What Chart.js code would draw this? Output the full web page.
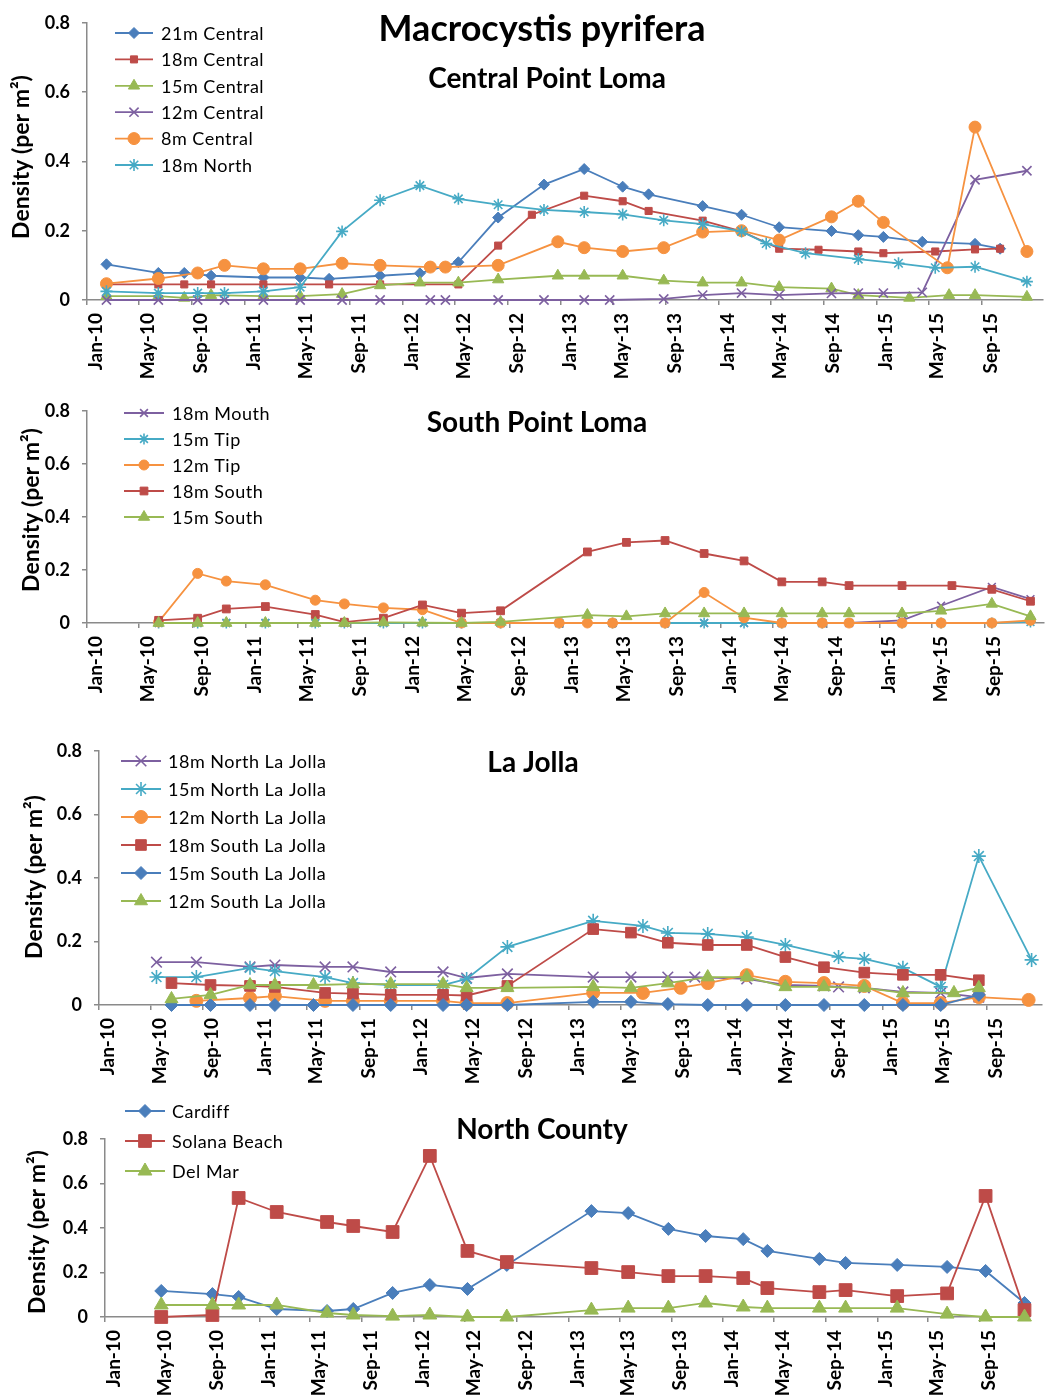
<!DOCTYPE html>
<html>
<head>
<meta charset="utf-8">
<title>Macrocystis pyrifera density</title>
<script src="https://cdn.jsdelivr.net/npm/chart.js@4.4.1/dist/chart.umd.min.js"></script>
<style>
  html, body { margin: 0; padding: 0; background: #fff; width: 1051px; height: 1397px; overflow: hidden; }
  canvas { position: absolute; left: 0; display: block; }
</style>
</head>
<body>
<canvas id="central" width="1051" height="388" style="top:0px"></canvas>
<canvas id="south" width="1051" height="327" style="top:388px"></canvas>
<canvas id="lajolla" width="1051" height="375" style="top:715px"></canvas>
<canvas id="north" width="1051" height="307" style="top:1090px"></canvas>
<script>
// ---------- axis labels ----------
const xTickLabels = ['Jan-10','May-10','Sep-10','Jan-11','May-11','Sep-11','Jan-12','May-12','Sep-12',
                     'Jan-13','May-13','Sep-13','Jan-14','May-14','Sep-14','Jan-15','May-15','Sep-15'];
const yTickValues = [0, 0.2, 0.4, 0.6, 0.8];
const yAxisTitle = 'Density (per m\u00B2)';
const mainTitle = 'Macrocystis pyrifera';
const regionTitles = ['Central Point Loma', 'South Point Loma', 'La Jolla', 'North County'];

// ---------- Central Point Loma ----------
const central21Dates = ['2010-02-15','2010-06-15','2010-08-14','2010-10-15','2011-02-13','2011-05-09','2011-07-15','2011-11-10','2012-02-10','2012-05-09','2012-08-09','2012-11-23','2013-02-24','2013-05-24','2013-07-23','2013-11-25','2014-02-23','2014-05-21','2014-09-19','2014-11-20','2015-01-17','2015-04-17','2015-08-17','2015-10-14'];
const central21Values = [0.103,0.078,0.078,0.070,0.065,0.065,0.061,0.070,0.077,0.109,0.238,0.333,0.378,0.327,0.305,0.271,0.246,0.210,0.199,0.187,0.182,0.168,0.162,0.148];

const central18Dates = ['2010-02-15','2010-06-15','2010-08-14','2010-10-15','2011-02-13','2011-07-15','2011-11-10','2012-05-09','2012-08-09','2012-10-26','2013-02-24','2013-05-24','2013-07-23','2013-11-25','2014-02-23','2014-05-21','2014-08-20','2014-11-20','2015-01-17','2015-05-17','2015-08-17','2015-10-14'];
const central18Values = [0.045,0.045,0.045,0.045,0.045,0.045,0.045,0.045,0.157,0.246,0.301,0.285,0.257,0.229,0.198,0.148,0.145,0.140,0.135,0.140,0.146,0.148];

const central15Dates = ['2010-02-15','2010-06-15','2010-08-14','2010-10-15','2011-02-13','2011-05-09','2011-08-14','2011-11-10','2012-02-10','2012-05-09','2012-08-09','2012-12-25','2013-02-24','2013-05-24','2013-08-27','2013-11-25','2014-02-23','2014-05-21','2014-09-19','2014-11-20','2015-03-18','2015-06-18','2015-08-17','2015-12-15'];
const central15Values = [0.011,0.011,0.006,0.014,0.011,0.011,0.017,0.042,0.050,0.050,0.059,0.070,0.070,0.070,0.056,0.050,0.050,0.037,0.033,0.014,0.006,0.014,0.014,0.009];

const central12Dates = ['2010-02-15','2010-06-15','2010-09-14','2010-11-15','2011-02-13','2011-05-09','2011-08-14','2011-11-10','2012-03-05','2012-04-09','2012-08-09','2012-11-23','2013-02-24','2013-04-24','2013-08-27','2013-11-25','2014-02-23','2014-05-21','2014-09-19','2014-11-20','2015-01-17','2015-04-17','2015-08-17','2015-12-15'];
const central12Values = [0,0,0,0,0,0,0,0,0,0,0,0,0,0,0.003,0.014,0.020,0.014,0.019,0.020,0.020,0.022,0.347,0.373];

const central8Dates = ['2010-02-15','2010-06-15','2010-09-14','2010-11-15','2011-02-13','2011-05-09','2011-08-14','2011-11-10','2012-03-05','2012-04-09','2012-08-09','2012-12-25','2013-02-24','2013-05-24','2013-08-27','2013-11-25','2014-02-23','2014-05-21','2014-09-19','2014-11-20','2015-01-17','2015-06-14','2015-08-17','2015-12-15'];
const central8Values = [0.047,0.062,0.078,0.100,0.090,0.090,0.106,0.100,0.095,0.095,0.100,0.168,0.151,0.140,0.151,0.196,0.200,0.173,0.240,0.285,0.224,0.093,0.499,0.140];

const north18Dates = ['2010-02-15','2010-06-15','2010-09-14','2010-11-15','2011-02-13','2011-05-09','2011-08-14','2011-11-10','2012-02-10','2012-05-09','2012-08-09','2012-11-23','2013-02-24','2013-05-24','2013-08-27','2013-11-25','2014-02-23','2014-04-21','2014-07-21','2014-11-20','2015-02-21','2015-05-17','2015-08-17','2015-12-15'];
const north18Values = [0.025,0.020,0.020,0.020,0.025,0.037,0.198,0.288,0.330,0.292,0.275,0.260,0.254,0.247,0.230,0.219,0.198,0.163,0.135,0.118,0.106,0.093,0.096,0.053];

// ---------- South Point Loma ----------
const mouth18Dates = ['2010-06-15','2010-09-13','2010-11-18','2011-02-16','2011-06-11','2011-08-17','2011-11-15','2012-02-13','2012-05-13','2012-08-11','2012-12-24','2013-04-26','2013-08-25','2013-11-23','2014-02-23','2014-05-21','2014-08-22','2014-10-23','2015-02-22','2015-05-23','2015-09-17','2015-12-15'];
const mouth18Values = [0,0,0,0,0,0,0,0,0,0,0,0,0,0,0,0,0,0,0.010,0.065,0.136,0.090];

const tip15Dates = ['2010-06-15','2010-09-13','2010-11-18','2011-02-16','2011-06-11','2011-08-17','2011-11-15','2012-02-13','2012-05-13','2012-08-11','2012-12-24','2013-04-26','2013-08-25','2013-11-23','2014-02-23','2014-05-21','2014-08-22','2015-02-22','2015-05-23','2015-09-17','2015-12-15'];
const tip15Values = [0,0,0,0,0,0,0,0,0,0,0,0,0,0,0,0,0,0,0,0,0.004];

const tip12Dates = ['2010-06-15','2010-09-13','2010-11-18','2011-02-16','2011-06-11','2011-08-17','2011-11-15','2012-02-13','2012-05-13','2012-08-11','2012-12-24','2013-02-27','2013-04-26','2013-08-25','2013-11-23','2014-02-23','2014-05-21','2014-08-22','2014-10-23','2015-02-22','2015-05-23','2015-09-17','2015-12-15'];
const tip12Values = [0.004,0.187,0.158,0.144,0.086,0.072,0.057,0.050,0,0,0,0,0,0,0.115,0.020,0,0,0,0,0,0,0.010];

const south18Dates = ['2010-06-15','2010-09-13','2010-11-18','2011-02-16','2011-06-11','2011-08-17','2011-11-15','2012-02-13','2012-05-13','2012-08-11','2013-02-27','2013-05-28','2013-08-25','2013-11-23','2014-02-23','2014-05-21','2014-08-22','2014-10-23','2015-02-22','2015-06-17','2015-09-17','2015-12-15'];
const south18Values = [0.010,0.018,0.053,0.062,0.032,0.003,0.018,0.068,0.037,0.046,0.268,0.304,0.311,0.262,0.234,0.155,0.155,0.141,0.141,0.141,0.127,0.082];

const south15Dates = ['2010-06-15','2010-09-13','2010-11-18','2011-02-16','2011-06-11','2011-08-17','2011-11-15','2012-02-13','2012-05-13','2012-08-11','2013-02-27','2013-05-28','2013-08-25','2013-11-23','2014-02-23','2014-05-21','2014-08-22','2014-10-23','2015-02-22','2015-05-23','2015-09-17','2015-12-15'];
const south15Values = [0,0,0,0,0,0,0.002,0.001,0,0.004,0.030,0.025,0.036,0.036,0.036,0.036,0.036,0.036,0.036,0.046,0.072,0.025];

// ---------- La Jolla ----------
const nlj18Dates = ['2010-05-15','2010-08-16','2010-12-19','2011-02-15','2011-06-12','2011-08-16','2011-11-12','2012-03-13','2012-05-07','2012-08-10','2013-02-26','2013-05-25','2013-08-19','2013-10-21','2014-02-19','2014-05-20','2014-08-18','2014-09-21','2014-11-20','2015-02-18','2015-05-17','2015-08-14'];
const nlj18Values = [0.135,0.135,0.120,0.126,0.120,0.120,0.104,0.104,0.085,0.098,0.088,0.088,0.088,0.088,0.082,0.063,0.060,0.057,0.054,0.041,0.038,0.025];

const nlj15Dates = ['2010-05-15','2010-08-16','2010-12-19','2011-02-15','2011-06-12','2011-08-16','2011-11-12','2012-03-13','2012-05-07','2012-08-10','2013-02-26','2013-06-22','2013-08-19','2013-11-20','2014-02-19','2014-05-20','2014-09-21','2014-11-20','2015-02-18','2015-05-17','2015-08-14','2015-12-15'];
const nlj15Values = [0.088,0.088,0.117,0.107,0.088,0.069,0.063,0.063,0.082,0.183,0.265,0.249,0.227,0.224,0.214,0.189,0.151,0.145,0.117,0.057,0.469,0.142];

const nlj12Dates = ['2010-08-16','2010-12-19','2011-02-15','2011-06-12','2011-08-16','2011-11-12','2012-03-13','2012-05-07','2012-08-10','2013-02-26','2013-06-22','2013-09-18','2013-11-20','2014-02-19','2014-05-20','2014-08-18','2014-11-20','2015-02-18','2015-05-17','2015-08-14','2015-12-08'];
const nlj12Values = [0.013,0.022,0.028,0.013,0.013,0.013,0.013,0.006,0.006,0.038,0.038,0.054,0.069,0.094,0.073,0.069,0.060,0.006,0.006,0.025,0.016];

const slj18Dates = ['2010-06-19','2010-09-18','2010-12-19','2011-02-15','2011-06-12','2011-08-16','2011-11-12','2012-03-13','2012-05-07','2012-08-10','2013-02-26','2013-05-25','2013-08-19','2013-11-20','2014-02-19','2014-05-20','2014-08-18','2014-11-20','2015-02-18','2015-05-17','2015-08-14'];
const slj18Values = [0.069,0.063,0.060,0.057,0.038,0.036,0.032,0.032,0.030,0.060,0.239,0.228,0.196,0.189,0.189,0.151,0.119,0.102,0.095,0.095,0.078];

const slj15Dates = ['2010-06-19','2010-09-18','2010-12-19','2011-02-15','2011-05-16','2011-08-16','2011-11-12','2012-03-13','2012-05-07','2012-08-10','2013-02-26','2013-05-25','2013-08-19','2013-11-20','2014-02-19','2014-05-20','2014-08-18','2014-11-20','2015-02-18','2015-05-17','2015-08-14'];
const slj15Values = [0,0,0,0,0,0,0,0,0,0,0.010,0.010,0.003,0,0,0,0,0,0,0,0.032];

const slj12Dates = ['2010-06-19','2010-09-18','2010-12-19','2011-02-15','2011-05-16','2011-08-16','2011-11-12','2012-03-13','2012-05-07','2012-08-10','2013-02-26','2013-05-25','2013-08-19','2013-11-20','2014-02-19','2014-05-20','2014-08-18','2014-11-20','2015-02-18','2015-06-17','2015-08-14'];
const slj12Values = [0.019,0.032,0.063,0.063,0.063,0.066,0.066,0.066,0.054,0.054,0.057,0.054,0.069,0.088,0.088,0.057,0.057,0.054,0.038,0.038,0.054];

// ---------- North County ----------
const countyDates = ['2010-05-14','2010-09-12','2010-11-13','2011-02-11','2011-06-10','2011-08-11','2011-11-12','2012-02-08','2012-05-07','2012-08-08','2013-02-24','2013-05-22','2013-08-25','2013-11-21','2014-02-18','2014-04-16','2014-08-17','2014-10-18','2015-02-17','2015-06-15','2015-09-14','2015-12-15'];
const cardiffValues = [0.117,0.103,0.090,0.036,0.027,0.036,0.108,0.144,0.126,0.234,0.476,0.467,0.396,0.364,0.350,0.297,0.261,0.243,0.234,0.225,0.207,0.063];
const solanaValues  = [0,0.009,0.535,0.472,0.427,0.409,0.382,0.724,0.297,0.247,0.220,0.202,0.184,0.184,0.175,0.130,0.112,0.121,0.094,0.106,0.544,0.031];
const delMarValues  = [0.054,0.054,0.054,0.054,0.018,0.009,0.004,0.009,0,0,0.031,0.040,0.040,0.063,0.045,0.040,0.040,0.040,0.040,0.013,0,0];

// ---------- helpers ----------
const FONT = 'Lato, "Open Sans", "DejaVu Sans", sans-serif';
const AXIS = '#8a8a8a';
const BLUE = '#4A7EBB', RED = '#BE4B48', GREEN = '#98B954', PURPLE = '#7D60A0', TEAL = '#46AAC5', ORANGE = '#F69240';
const MONTHS = ['Jan','Feb','Mar','Apr','May','Jun','Jul','Aug','Sep','Oct','Nov','Dec'];
const EPOCH = Date.UTC(2010, 0, 1);
const DAY = 86400000;

function dayOf(iso) {
  const [y, m, d] = iso.split('-').map(Number);
  return (Date.UTC(y, m - 1, d) - EPOCH) / DAY;
}
function tickDay(label) {
  const [mon, yy] = label.split('-');
  return (Date.UTC(2000 + Number(yy), MONTHS.indexOf(mon), 1) - EPOCH) / DAY;
}
const xTickDays = xTickLabels.map(tickDay);

function points(dates, values) {
  return dates.map((d, i) => ({ x: dayOf(d), y: values[i] }));
}

function series(label, dates, values, color, style, radius) {
  const crossLike = style === 'crossRot' || style === 'star';
  return {
    label,
    data: points(dates, values),
    borderColor: color,
    backgroundColor: color,
    pointBackgroundColor: color,
    pointBorderColor: color,
    pointStyle: style,
    pointRadius: radius,
    pointHoverRadius: radius,
    pointBorderWidth: crossLike ? 1.6 : 1,
    borderWidth: 1.8,
    tension: 0,
    fill: false,
    clip: false
  };
}

function drawMarker(ctx, ds, x, y) {
  ctx.fillStyle = ds.pointBackgroundColor;
  ctx.strokeStyle = ds.pointBorderColor;
  ctx.lineWidth = ds.pointBorderWidth;
  Chart.helpers.drawPoint(ctx, {
    pointStyle: ds.pointStyle, radius: ds.pointRadius, rotation: 0, borderWidth: ds.pointBorderWidth
  }, x, y);
}

// titles, rotated y-axis caption and an in-plot legend
function overlayPlugin(p) {
  return {
    id: 'overlay',
    afterDraw(chart) {
      const ctx = chart.ctx;
      ctx.save();
      ctx.fillStyle = '#000';
      ctx.textAlign = 'center';
      ctx.textBaseline = 'middle';
      p.titles.forEach(t => {
        ctx.font = `bold ${t.size}px ${FONT}`;
        ctx.fillText(t.text, t.x, t.y);
      });

      ctx.save();
      ctx.translate(p.yTitle.x, p.yTitle.y);
      ctx.rotate(-Math.PI / 2);
      ctx.font = `bold 23px ${FONT}`;
      ctx.fillText(yAxisTitle, 0, 0);
      ctx.restore();

      const lg = p.legend;
      chart.data.datasets.forEach((ds, i) => {
        const y = lg.y0 + i * lg.step;
        ctx.strokeStyle = ds.borderColor;
        ctx.lineWidth = ds.borderWidth;
        ctx.beginPath();
        ctx.moveTo(lg.x0, y);
        ctx.lineTo(lg.x1, y);
        ctx.stroke();
        drawMarker(ctx, ds, (lg.x0 + lg.x1) / 2, y);
        ctx.fillStyle = '#000';
        ctx.textAlign = 'left';
        ctx.font = `${lg.size}px ${FONT}`;
        if ('letterSpacing' in ctx) ctx.letterSpacing = '0.5px';
        ctx.fillText(ds.label, lg.tx, y + 1);
        if ('letterSpacing' in ctx) ctx.letterSpacing = '0px';
      });
      ctx.restore();
    }
  };
}

function panel(canvasId, p, datasets) {
  datasets.forEach((d, i) => { d.order = -i; });
  return new Chart(document.getElementById(canvasId), {
    type: 'line',
    data: { datasets },
    options: {
      responsive: false,
      animation: false,
      events: [],
      layout: { padding: { top: p.plotTop, right: p.padRight, left: 0, bottom: 0 } },
      plugins: { legend: { display: false }, tooltip: { enabled: false } },
      scales: {
        x: {
          type: 'linear',
          min: 0,
          max: p.xMax,
          bounds: 'data',
          afterBuildTicks: s => { s.ticks = xTickDays.map(v => ({ value: v })); },
          afterFit: s => { s.height = p.xAxisHeight; },
          ticks: {
            autoSkip: false, minRotation: 90, maxRotation: 90, padding: 8, labelOffset: 9, color: '#000',
            font: { family: FONT, size: 19, weight: 'bold' },
            callback: (v, i) => xTickLabels[i]
          },
          grid: { drawOnChartArea: false, drawTicks: true, tickLength: 5, color: AXIS, lineWidth: 1.5 },
          border: { color: AXIS, width: 1.5 }
        },
        y: {
          min: 0,
          max: 0.8,
          afterBuildTicks: s => { s.ticks = yTickValues.map(v => ({ value: v })); },
          afterFit: s => { s.width = p.yAxisWidth; },
          ticks: {
            padding: 12, color: '#000',
            font: { family: FONT, size: 18, weight: 'bold' },
            callback: v => (v === 0 ? '0' : v.toFixed(1))
          },
          grid: { drawOnChartArea: false, drawTicks: true, tickLength: 5, color: AXIS, lineWidth: 1.5 },
          border: { color: AXIS, width: 1.5 }
        }
      }
    },
    plugins: [overlayPlugin(p)]
  });
}

// ---------- panels ----------
panel('central', {
  plotTop: 14, padRight: 0, xMax: 2211, xAxisHeight: 88, yAxisWidth: 87,
  titles: [{ text: mainTitle, x: 542, y: 29, size: 36 }, { text: regionTitles[0], x: 547, y: 79, size: 28 }],
  yTitle: { x: 22, y: 157 },
  legend: { x0: 115, x1: 153, tx: 161, y0: 33, step: 26.4, size: 18 }
}, [
  series('21m Central', central21Dates, central21Values, BLUE, 'rectRot', 5.5),
  series('18m Central', central18Dates, central18Values, RED, 'rect', 5),
  series('15m Central', central15Dates, central15Values, GREEN, 'triangle', 6.5),
  series('12m Central', central12Dates, central12Values, PURPLE, 'crossRot', 6.5),
  series('8m Central', central8Dates, central8Values, ORANGE, 'circle', 6),
  series('18m North', north18Dates, north18Values, TEAL, 'star', 6)
]);

panel('south', {
  plotTop: 12, padRight: 0, xMax: 2204, xAxisHeight: 92, yAxisWidth: 87,
  titles: [{ text: regionTitles[1], x: 537, y: 35, size: 28 }],
  yTitle: { x: 32, y: 122 },
  legend: { x0: 124, x1: 164, tx: 172, y0: 25, step: 26, size: 18 }
}, [
  series('18m Mouth', mouth18Dates, mouth18Values, PURPLE, 'crossRot', 5.5),
  series('15m Tip', tip15Dates, tip15Values, TEAL, 'star', 5.5),
  series('12m Tip', tip12Dates, tip12Values, ORANGE, 'circle', 5),
  series('18m South', south18Dates, south18Values, RED, 'rect', 5.5),
  series('15m South', south15Dates, south15Values, GREEN, 'triangle', 6.5)
]);

panel('lajolla', {
  plotTop: 36, padRight: 0, xMax: 2198, xAxisHeight: 85, yAxisWidth: 99,
  titles: [{ text: regionTitles[2], x: 533, y: 48, size: 28 }],
  yTitle: { x: 35, y: 162 },
  legend: { x0: 121, x1: 161, tx: 168, y0: 46, step: 28, size: 18 }
}, [
  series('18m North La Jolla', nlj18Dates, nlj18Values, PURPLE, 'crossRot', 7.5),
  series('15m North La Jolla', nlj15Dates, nlj15Values, TEAL, 'star', 7),
  series('12m North La Jolla', nlj12Dates, nlj12Values, ORANGE, 'circle', 6.5),
  series('18m South La Jolla', slj18Dates, slj18Values, RED, 'rect', 7.5),
  series('15m South La Jolla', slj15Dates, slj15Values, BLUE, 'rectRot', 6.5),
  series('12m South La Jolla', slj12Dates, slj12Values, GREEN, 'triangle', 7.5)
]);

panel('north', {
  plotTop: 49, padRight: 21, xMax: 2187, xAxisHeight: 80, yAxisWidth: 105,
  titles: [{ text: regionTitles[3], x: 542, y: 40, size: 28 }],
  yTitle: { x: 38, y: 142 },
  legend: { x0: 125, x1: 165, tx: 172, y0: 21, step: 30, size: 18 }
}, [
  series('Cardiff', countyDates, cardiffValues, BLUE, 'rectRot', 6.5),
  series('Solana Beach', countyDates, solanaValues, RED, 'rect', 9),
  series('Del Mar', countyDates, delMarValues, GREEN, 'triangle', 8)
]);
</script>
</body>
</html>
